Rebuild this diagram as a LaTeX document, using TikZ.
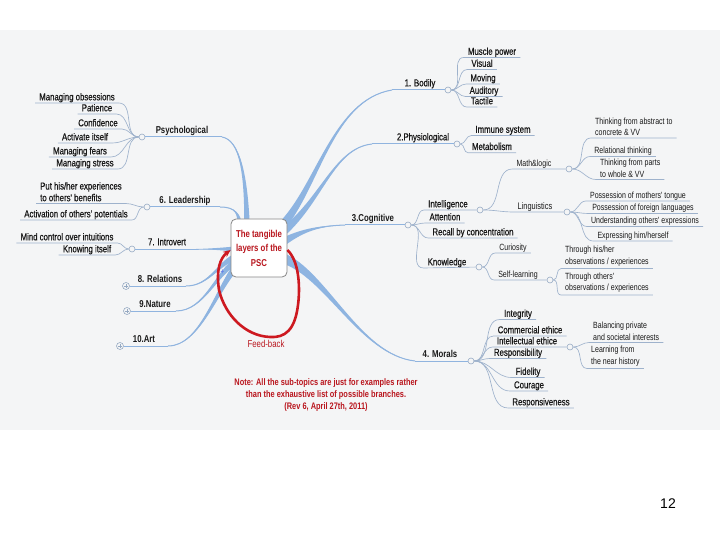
\documentclass[tikz,border=0pt]{standalone}
\usepackage{fontspec}
\setmainfont{Liberation Sans}
\newfontfamily\nar[FakeStretch=0.78]{Liberation Sans}
\newfontfamily\narm[FakeStretch=0.78,FakeBold=0.7]{Liberation Sans}
\usetikzlibrary{calc,arrows.meta}
\pgfdeclarelayer{bgl}
\pgfsetlayers{bgl,main}
\definecolor{bgc}{RGB}{244,245,246}
\definecolor{br}{RGB}{141,180,226}
\definecolor{subc}{RGB}{158,178,204}
\definecolor{hubc}{RGB}{150,170,195}
\definecolor{txt}{RGB}{25,25,25}
\definecolor{dred}{RGB}{185,22,30}
\definecolor{lred}{RGB}{205,25,32}
\definecolor{nodeb}{RGB}{135,135,135}
% tapered main branch: start, c1, c2, end, dx, dy
\newcommand\branch[6]{%
  \fill[br] ($#1+(#5,#6)$) .. controls ($#2+0.5*(#5,#6)$) and ($#3+0.12*(#5,#6)$) .. #4
     .. controls ($#3-0.12*(#5,#6)$) and ($#2-0.5*(#5,#6)$) .. ($#1-(#5,#6)$) -- cycle;
  \draw[mline] #1 .. controls #2 and #3 .. #4;}
\begin{document}
\begin{tikzpicture}[x=1pt,y=-1pt,
  lab/.style={font=\narm\fontsize{10}{12}\selectfont, text=txt, inner xsep=4pt, inner ysep=0.5pt, text height=7.5pt, text depth=2pt, anchor=south},
  mainr/.style={lab, text depth=3pt},
  mainb/.style={mainr, font=\nar\bfseries\fontsize{10}{12}\selectfont},
  slab/.style={lab, font=\nar\fontsize{9}{11}\selectfont, text height=6.8pt},
  mlab/.style={font=\nar\fontsize{9}{11.5}\selectfont, text=txt, align=left, inner xsep=4pt, inner ysep=2pt, anchor=south west},
  sub/.style={draw=subc, line width=0.65pt},
  mline/.style={draw=br!85!subc, line width=1pt},
  hub/.style={circle, draw=hubc, fill=bgc, line width=0.6pt, inner sep=0pt, minimum size=6pt},
  hubp/.style={hub, minimum size=7pt, path picture={\draw[hubc, line width=0.5pt]
     ([xshift=-2pt]path picture bounding box.center) -- ([xshift=2pt]path picture bounding box.center)
     ([yshift=-2pt]path picture bounding box.center) -- ([yshift=2pt]path picture bounding box.center);}},
  core/.style={draw=nodeb, fill=white, rounded corners=5pt, line width=0.8pt, minimum width=56pt, minimum height=58pt,
     align=center, text=dred, font=\nar\bfseries\fontsize{10}{14.5}\selectfont, inner sep=1pt},
]
\useasboundingbox (0,0) rectangle (720,540);

% central node
\node[core] (ctr) at (259,248) {The tangible\\layers of the\\PSC};

% hubs
\node[hub] (cPsy) at (142,137) {};
\node[hub] (cLea) at (147,207) {};
\node[hub] (cInt) at (132,249) {};
\node[hubp] (cRel) at (126,286) {};
\node[hubp] (cNat) at (127,311) {};
\node[hubp] (cArt) at (120,346) {};
\node[hub] (cBod) at (448,90) {};
\node[hub] (cPhy) at (457,144) {};
\node[hub] (cCog) at (408,225) {};
\node[hub] (cMor) at (471,361) {};
\node[hub] (cIA) at (480,210) {};
\node[hub] (cMath) at (569,169) {};
\node[hub] (cLing) at (567,212) {};
\node[hub] (cKno) at (479,267) {};
\node[hub] (cSelf) at (550,280) {};
\node[hub] (cIE) at (570,347) {};

% branch ends and starts
\coordinate (ePsy) at (222,137);
\coordinate (eLea) at (220,207);
\coordinate (eInt) at (196,249);
\coordinate (eRel) at (186,286);
\coordinate (eNat) at (176,311);
\coordinate (eArt) at (168,346);
\coordinate (eBod) at (392,90);
\coordinate (ePhy) at (372,144);
\coordinate (eCog) at (345,225);
\coordinate (eMor) at (415,361);
\coordinate (sBod) at ($(ctr.center)+(21,-20)$);
\coordinate (sPhy) at ($(ctr.center)+(24,-16)$);
\coordinate (sCog) at ($(ctr.center)+(24,-6)$);
\coordinate (sMor) at ($(ctr.center)+(23,10)$);
\coordinate (sPsy) at ($(ctr.center)+(-12,-23)$);
\coordinate (sLea) at ($(ctr.center)+(-19,-22)$);
\coordinate (sInt) at ($(ctr.center)+(-19,1)$);
\coordinate (sRel) at ($(ctr.center)+(-21,8)$);
\coordinate (sNat) at ($(ctr.center)+(-21,12)$);
\coordinate (sArt) at ($(ctr.center)+(-21,16)$);

\begin{pgfonlayer}{bgl}
\fill[bgc] (0,30) rectangle (720,429.5);
\branch{(sBod)}{(318,188)}{(332,100)}{(eBod)}{2.6}{3.7}
\branch{(sPhy)}{(322,200)}{(334,148)}{(ePhy)}{2}{3.5}
\branch{(sCog)}{(300,232)}{(315,226)}{(eCog)}{1.4}{3.8}
\branch{(sMor)}{(325,272)}{(360,355)}{(eMor)}{-1.8}{4.8}
\branch{(sPsy)}{(246,175)}{(240,140)}{(ePsy)}{2.8}{0}
\branch{(sLea)}{(239,214)}{(236,207)}{(eLea)}{2.6}{0}
\branch{(sInt)}{(225,249)}{(210,249)}{(eInt)}{0}{3}
\branch{(sRel)}{(218,262)}{(210,286)}{(eRel)}{1.3}{3.3}
\branch{(sNat)}{(216,272)}{(205,311)}{(eNat)}{1.9}{2.9}
\branch{(sArt)}{(216,290)}{(200,346)}{(eArt)}{2.6}{2.3}
\end{pgfonlayer}

% main labels
\node[mainb] (psy) at (182,137) {Psychological};
\node[mainb] (lea) at (185,207) {6. Leadership};
\node[mainr] (intro) at (167,249) {7. Introvert};
\node[mainb] (rel) at (160,286) {8. Relations};
\node[mainb] (nat) at (155,311) {9.Nature};
\node[mainb] (art) at (144,346) {10.Art};
\node[mainr] (bod) at (420,90) {1. Bodily};
\node[mainr] (phy) at (423,144) {2.Physiological};
\node[mainb] (cog) at (373,225) {3.Cognitive};
\node[mainb] (mor) at (440,361) {4. Morals};

\foreach \h/\e in {cPsy/ePsy,cLea/eLea,cInt/eInt,cRel/eRel,cNat/eNat,cArt/eArt,cBod/eBod,cPhy/ePhy,cCog/eCog,cMor/eMor}
  \draw[mline] (\h) -- (\e);

% left sub labels
\node[lab] (obs) at (77,103) {Managing obsessions};
\node[lab] (pat) at (97,114) {Patience};
\node[lab] (conf) at (98,129) {Confidence};
\node[lab] (act) at (85,143) {Activate itself};
\node[lab] (fears) at (80,157) {Managing fears};
\node[lab] (stress) at (85,169) {Managing stress};
\node[mlab, font=\narm\fontsize{10}{11.7}\selectfont] (put) at (36,203.5) {Put his/her experiences\\to others' benefits};
\node[lab] (actv) at (76,220) {Activation of others' potentials};
\node[lab] (mind) at (67,243) {Mind control over intuitions};
\node[lab] (know) at (87,255) {Knowing itself};

\foreach \n in {obs,pat,conf,act,fears,stress}
  \draw[sub] (cPsy) to[out=180,in=0] (\n.south east) -- (\n.south west);
\foreach \n in {put,actv}
  \draw[sub] (cLea) to[out=180,in=0] (\n.south east) -- (\n.south west);
\foreach \n in {mind,know}
  \draw[sub] (cInt) to[out=180,in=0] (\n.south east) -- (\n.south west);

% right sub labels
\node[lab] (mp) at (492,57.5) {Muscle power};
\node[lab] (vis) at (482,69.5) {Visual};
\node[lab] (mov) at (483,84) {Moving};
\node[lab] (aud) at (484,96.5) {Auditory};
\node[lab] (tac) at (482,107) {Tactile};
\node[lab] (imm) at (503,135.5) {Immune system};
\node[lab] (met) at (492,152.7) {Metabolism};
\node[lab] (intel) at (448,210) {Intelligence};
\node[lab] (att) at (445,223) {Attention};
\node[lab] (recall) at (473,238) {Recall by concentration};
\node[lab] (knowl) at (447,268) {Knowledge};
\node[slab] (math) at (534,169) {Math\&logic};
\node[slab, font=\nar\fontsize{9.5}{11}\selectfont] (ling) at (535,212) {Linguistics};
\node[mlab] (abst) at (591,138) {Thinking from abstract to\\concrete \& VV};
\node[slab] (relat) at (623,156.5) {Relational thinking};
\node[mlab] (parts) at (596,179.5) {Thinking from parts\\to whole \& VV};
\node[slab] (moth) at (638,201) {Possession of mothers' tongue};
\node[slab] (forg) at (643,213.5) {Possession of foreign languages};
\node[slab] (und) at (645,226.5) {Understanding others' expressions};
\node[slab] (expr) at (633,241) {Expressing him/herself};
\node[slab] (cur) at (513,253) {Curiosity};
\node[slab] (selfl) at (518,280) {Self-learning};
\node[mlab] (thr1) at (561,268.5) {Through his/her\\observations / experiences};
\node[mlab] (thr2) at (561,295) {Through others'\\observations / experiences};
\node[lab] (integ) at (518,319.5) {Integrity};
\node[lab] (comm) at (530,336) {Commercial ethice};
\node[lab] (intel2) at (527,347) {Intellectual ethice};
\node[lab] (resp) at (518,358.5) {Responsibility};
\node[lab] (fid) at (528,377.5) {Fidelity};
\node[lab] (cour) at (529,391) {Courage};
\node[lab] (respv) at (541,408) {Responsiveness};
\node[mlab] (bal) at (589,342.5) {Balancing private\\and societal interests};
\node[mlab] (lear) at (587,368.5) {Learning from\\the near history};

\foreach \n in {mp,vis,mov,aud,tac}
  \draw[sub] (cBod) to[out=0,in=180] (\n.south west) -- (\n.south east);
\foreach \n in {imm,met}
  \draw[sub] (cPhy) to[out=0,in=180] (\n.south west) -- (\n.south east);
\foreach \n in {att,recall}
  \draw[sub] (cCog) to[out=0,in=180] (\n.south west) -- (\n.south east);
\draw[sub] (cCog) to[out=0,in=180] (intel.south west) -- (cIA);
\draw[sub] (cCog) to[out=0,in=180] (knowl.south west) -- (cKno);
\draw[sub] (cIA) to[out=0,in=180] (math.south west) -- (cMath);
\draw[sub] (cIA) to[out=0,in=180] (ling.south west) -- (cLing);
\foreach \n in {abst,relat,parts}
  \draw[sub] (cMath) to[out=0,in=180] (\n.south west) -- (\n.south east);
\foreach \n in {moth,forg,und,expr}
  \draw[sub] (cLing) to[out=0,in=180] (\n.south west) -- (\n.south east);
\draw[sub] (cKno) to[out=0,in=180] (cur.south west) -- (cur.south east);
\draw[sub] (cKno) to[out=0,in=180] (selfl.south west) -- (cSelf);
\foreach \n in {thr1,thr2}
  \draw[sub] (cSelf) to[out=0,in=180] (\n.south west) -- (\n.south east);
\foreach \n in {integ,comm,resp,fid,cour,respv}
  \draw[sub] (cMor) to[out=0,in=180] (\n.south west) -- (\n.south east);
\draw[sub] (cMor) to[out=0,in=180] (intel2.south west) -- (cIE);
\foreach \n in {bal,lear}
  \draw[sub] (cIE) to[out=0,in=180] (\n.south west) -- (\n.south east);

% feedback loop
\draw[lred, line width=2.6pt, -{Stealth[length=7.5pt,width=6.5pt]}]
  ([yshift=-2pt]ctr.east) .. controls (300,262) and (300,290) .. (298,305)
  .. controls (295,330) and (285,338) .. (270,337)
  .. controls (245,336) and (225,315) .. (219,290)
  .. controls (216,270) and (220,258) .. ([yshift=-2pt]ctr.west);
\node[text=br!70!blue, font=\nar\bfseries\fontsize{8}{8}\selectfont, inner sep=0pt] (plus) at (222.5,272) {+};
\node[text=dred, font=\nar\fontsize{10}{12}\selectfont, inner sep=0pt] (fb) at (266,344) {Feed-back};
\node[text=dred, font=\nar\bfseries\fontsize{9.5}{12.3}\selectfont, align=center, inner sep=0pt] (note) at (326,395)
  {Note: All the sub-topics are just for examples rather\\than the exhaustive list of possible branches.\\(Rev 6, April 27th, 2011)};

\node[font=\fontsize{14}{16}\selectfont, text=black, inner sep=0pt] (pg) at (668,504) {12};
\end{tikzpicture}
\end{document}
